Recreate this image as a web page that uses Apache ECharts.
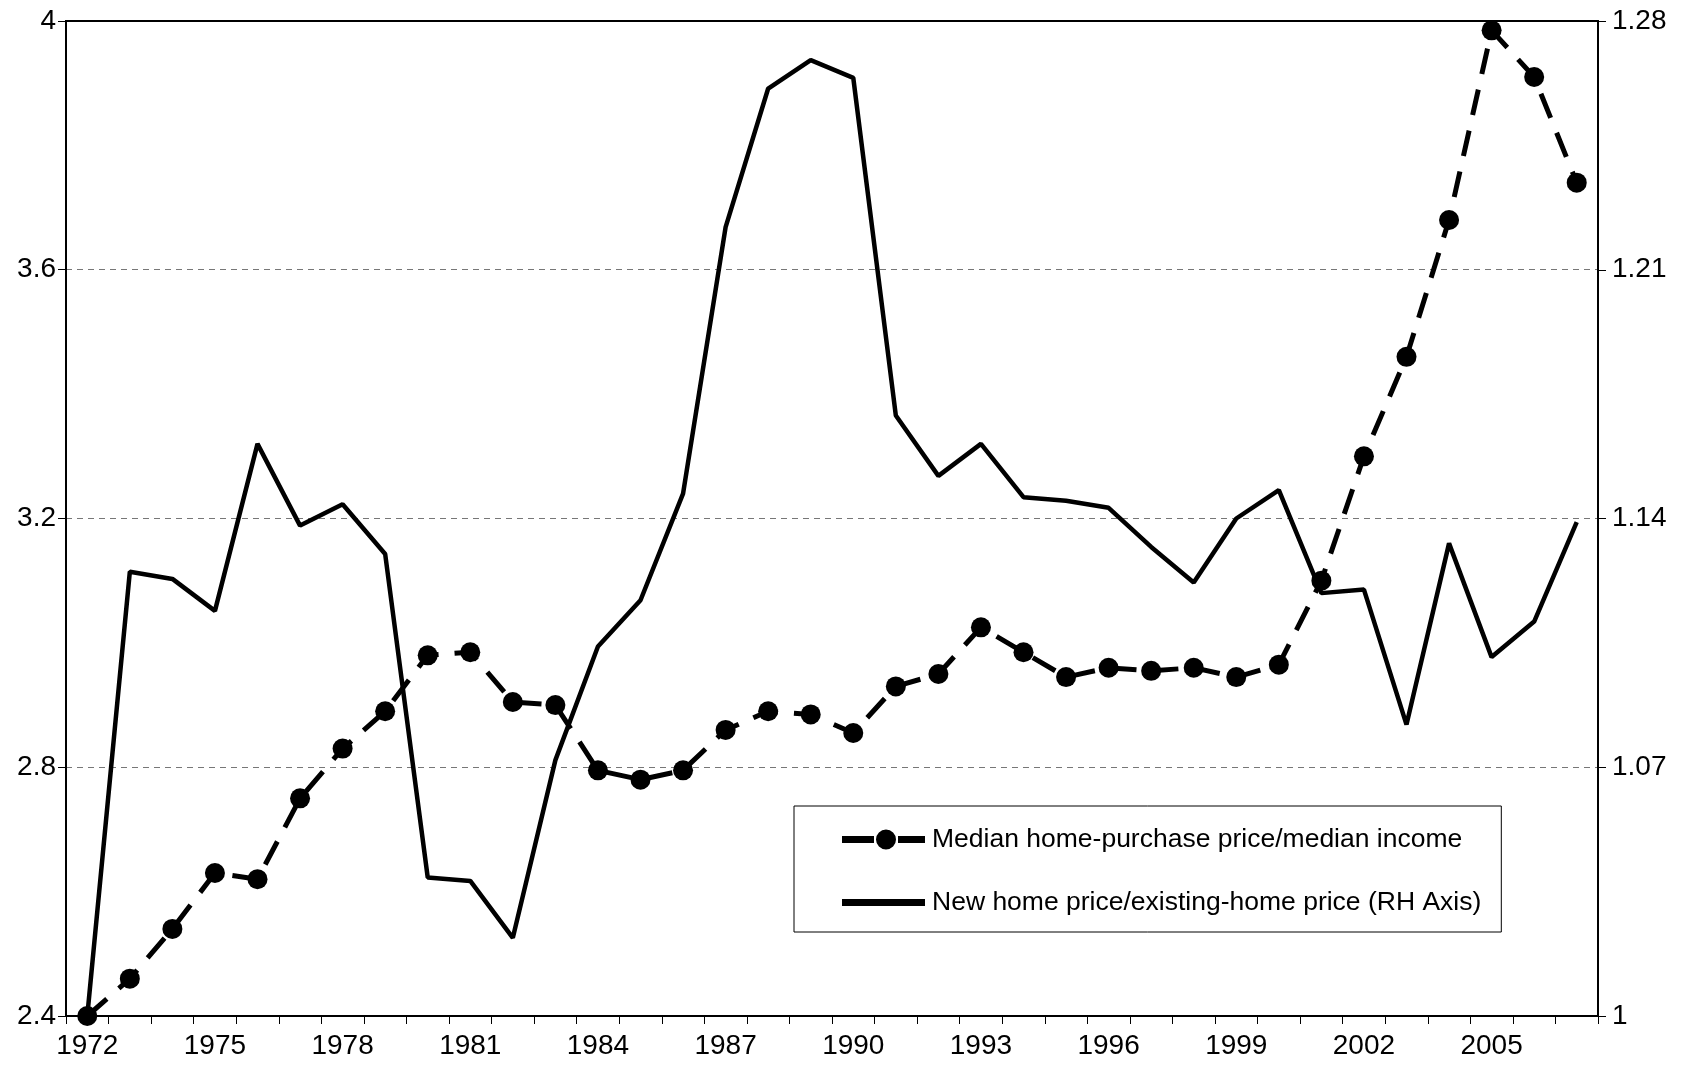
<!DOCTYPE html>
<html>
<head>
<meta charset="utf-8">
<script src="https://cdn.jsdelivr.net/npm/echarts@6/dist/echarts.min.js"></script>
<style>
  html, body { margin: 0; padding: 0; background: #fff; }
  #chart { width: 1686px; height: 1068px; }
</style>
</head>
<body>
<div id="chart"></div>
<script>
// years on the x axis
const years = [];
for (let y = 1972; y <= 2007; y++) years.push(String(y));

// median home-purchase price / median income (left axis)
const priceIncome = [
  2.40, 2.46, 2.54, 2.63, 2.62, 2.75, 2.83, 2.89, 2.98, 2.985,
  2.905, 2.90, 2.795, 2.78, 2.795, 2.86, 2.89, 2.885, 2.855, 2.93,
  2.95, 3.025, 2.985, 2.945, 2.96, 2.955, 2.96, 2.945, 2.965, 3.10,
  3.30, 3.46, 3.68, 3.985, 3.91, 3.74
];

// new home price / existing-home price (right axis)
const newExisting = [
  1.000, 1.125, 1.123, 1.114, 1.161, 1.138, 1.144, 1.130, 1.039, 1.038,
  1.022, 1.072, 1.104, 1.117, 1.147, 1.222, 1.261, 1.269, 1.264, 1.169,
  1.152, 1.161, 1.146, 1.145, 1.143, 1.132, 1.122, 1.140, 1.148, 1.119,
  1.120, 1.082, 1.133, 1.101, 1.111, 1.139
];

const leftTicks = [2.4, 2.8, 3.2, 3.6, 4];
const rightTicks = [1, 1.07, 1.14, 1.21, 1.28];

const font = 'Liberation Sans, Arial, sans-serif';
const tickFont = 28;
const chart = echarts.init(document.getElementById('chart'));

// legend glyphs: dash - dot - dash, and a plain thick line
const dashDotIcon = 'path://M0,6.5H32V13.5H0Z M56,6.5H83V13.5H56Z M34,10A10,10 0 1,0 54,10A10,10 0 1,0 34,10Z';
const solidIcon = 'path://M0,6.5H83V13.5H0Z';

const option = {
  animation: false,
  backgroundColor: '#fff',
  textStyle: { fontFamily: font, color: '#000' },
  grid: {
    left: 66, right: 88, top: 21, bottom: 52,
    show: true,
    borderColor: '#000',
    borderWidth: 2
  },
  legend: {
    orient: 'vertical',
    left: 794,
    top: 806,
    padding: [20, 20, 16, 48],
    itemGap: 36,
    itemWidth: 83,
    itemHeight: 20,
    borderColor: '#000',
    borderWidth: 1,
    textStyle: { fontSize: 26.5, color: '#000', fontFamily: font, padding: [0, 0, 0, 2] },
    data: [
      { name: 'Median home-purchase price/median income', icon: dashDotIcon },
      { name: 'New home price/existing-home price (RH Axis)', icon: solidIcon }
    ]
  },
  xAxis: {
    type: 'category',
    data: years,
    boundaryGap: true,
    axisLine: { lineStyle: { color: '#000', width: 2 } },
    axisTick: { show: true, interval: 0, length: 8, lineStyle: { color: '#000', width: 1 } },
    axisLabel: { interval: 2, margin: 16, fontSize: tickFont, color: '#000', fontFamily: font },
    splitLine: { show: false }
  },
  yAxis: [
    {
      type: 'value',
      min: 2.4, max: 4, interval: 0.4,
      position: 'left',
      axisLine: { show: true, lineStyle: { color: '#000', width: 2 } },
      axisTick: { show: true, length: 8, lineStyle: { color: '#000' } },
      axisLabel: {
        margin: 10, fontSize: tickFont, color: '#000', fontFamily: font,
        formatter: v => leftTicks.find(t => Math.abs(t - v) < 1e-6) !== undefined ? String(+v.toFixed(1)) : ''
      },
      splitLine: {
        show: true, showMinLine: false, showMaxLine: false,
        lineStyle: { color: '#777', width: 1, type: [6, 5] }
      }
    },
    {
      type: 'value',
      min: 1, max: 1.28, interval: 0.07,
      position: 'right',
      axisLine: { show: true, lineStyle: { color: '#000', width: 2 } },
      axisTick: { show: true, length: 8, lineStyle: { color: '#000' } },
      axisLabel: {
        margin: 14, fontSize: tickFont, color: '#000', fontFamily: font,
        formatter: v => rightTicks.find(t => Math.abs(t - v) < 1e-6) !== undefined ? String(+v.toFixed(2)) : ''
      },
      splitLine: { show: false }
    }
  ],
  series: [
    {
      name: 'Median home-purchase price/median income',
      type: 'line',
      yAxisIndex: 0,
      data: priceIncome,
      symbol: 'circle',
      symbolSize: 20,
      showAllSymbol: true,
      itemStyle: { color: '#000' },
      lineStyle: { color: '#000', width: 5, type: [26, 16] },
      z: 3
    },
    {
      name: 'New home price/existing-home price (RH Axis)',
      type: 'line',
      yAxisIndex: 1,
      data: newExisting,
      symbol: 'none',
      itemStyle: { color: '#000' },
      lineStyle: { color: '#000', width: 4.5 },
      z: 2
    }
  ]
};

chart.setOption(option);
</script>
</body>
</html>
